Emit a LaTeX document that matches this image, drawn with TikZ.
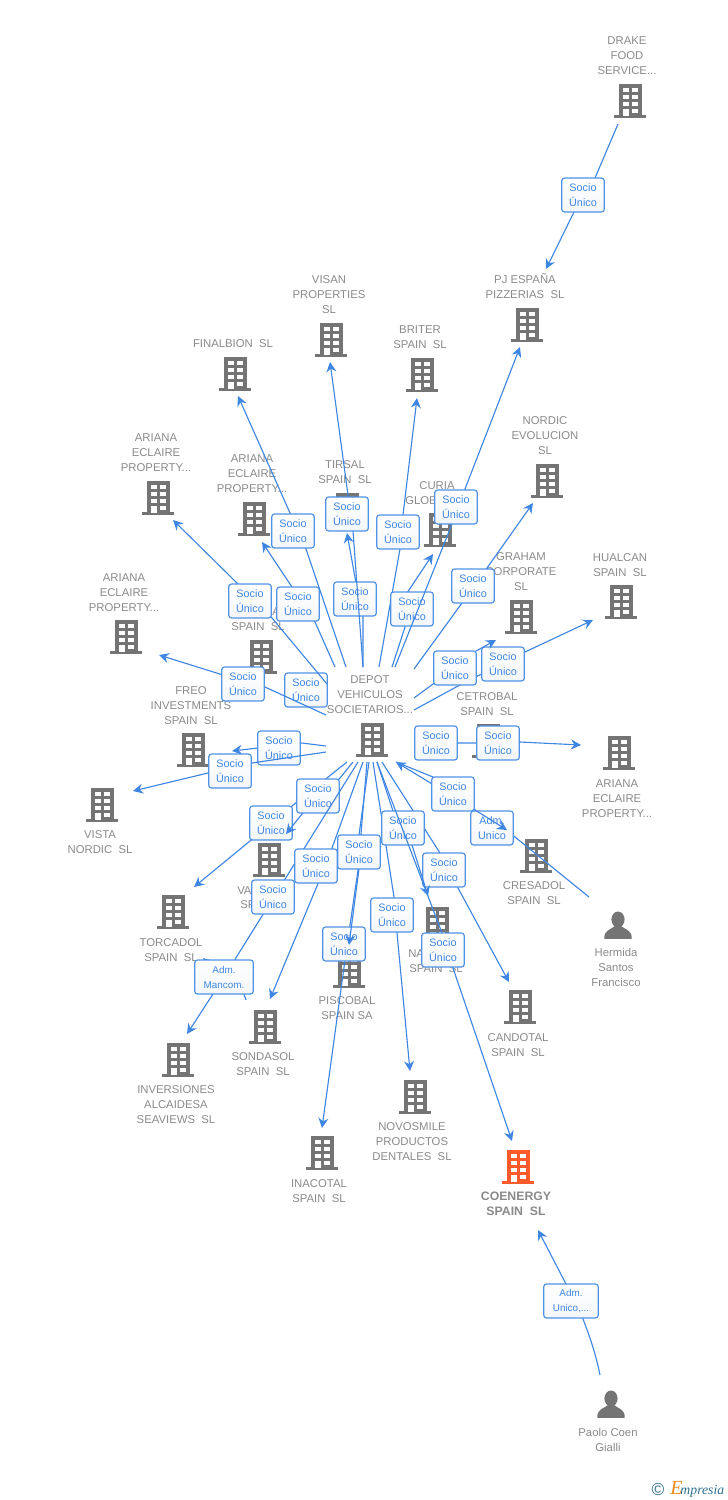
\documentclass[tikz,border=0pt]{standalone}
\usepackage{fontspec}
\setmainfont{Liberation Sans}
\newfontfamily\logofont{Liberation Serif}
\usetikzlibrary{arrows.meta}
\definecolor{edgeblue}{HTML}{3F86E2}
\definecolor{boxblue}{HTML}{4F92E6}
\definecolor{boxshade}{HTML}{F3F6FA}
\definecolor{labelgray}{HTML}{8A8A8A}
\definecolor{iconGray}{HTML}{747474}
\definecolor{iconOrange}{HTML}{FF5A2B}
\definecolor{logoTeal}{HTML}{2F6F8F}
\definecolor{logoOrange}{HTML}{F08A1D}
\tikzset{
  x=0.75pt,y=-0.75pt,
  edge/.style={draw=edgeblue,line width=0.85pt,-{Stealth[length=7.5pt,width=7.5pt,inset=2.5pt]}},
  plainedge/.style={draw=edgeblue,line width=0.85pt},
  linkbox/.style={draw=boxblue,line width=0.9pt,rounded corners=2.2pt,top color=white,bottom color=boxshade,
    text=edgeblue,font=\fontsize{8.1}{11.25}\selectfont,align=center,inner sep=0pt,
    minimum width=32pt,minimum height=25.5pt},
  lab/.style={text=labelgray,font=\fontsize{8.5}{11.25}\selectfont,align=center,inner sep=0pt,yshift=-0.6pt},
  labb/.style={text=labelgray,font=\fontsize{9.2}{11.25}\selectfont\bfseries,align=center,inner sep=0pt,yshift=-0.6pt},
  bldg/.style={minimum width=24pt,minimum height=25.5pt,inner sep=0pt,path picture={
    \begin{scope}[shift={(path picture bounding box.center)},x=0.75pt,y=-0.75pt]
      \fill[#1] (-11.5,-17) rectangle (11.5,14.5);
      \fill[#1] (-16,14) rectangle (16,17);
      \foreach \yy in {-13.5,-6.5,0.5}{
        \fill[white] (-7.5,\yy) rectangle (-1.5,\yy+4.6);
        \fill[white] (2,\yy) rectangle (8,\yy+4.6);}
      \fill[white] (-7.5,7.5) rectangle (-1.5,14.5);
      \fill[white] (2,7.5) rectangle (8,12);
    \end{scope}}},
  bldg/.default=iconGray,
  persn/.style={minimum width=21pt,minimum height=21pt,inner sep=0pt,path picture={
    \begin{scope}[shift={(path picture bounding box.center)},x=0.75pt,y=-0.75pt]
      \fill[iconGray] (0,-5.5) ellipse (6.6 and 8);
      \fill[iconGray] (-13.7,13.8) .. controls (-14,5) and (-8,5) .. (-3,1) -- (3,1) .. controls (8,5) and (14,5) .. (13.7,13.8) -- cycle;
    \end{scope}}},
}
% id, start, box entry, box, box exit, tip, box text
\newcommand\connw[7]{%
  \coordinate (#1-s) at (#2);\coordinate (#1-a) at (#3);\coordinate (#1-b) at (#4);\coordinate (#1-c) at (#5);\coordinate (#1-t) at (#6);
  \draw[edge] (#1-s) -- (#1-a) -- (#1-c) -- (#1-t);
  \node[linkbox] (#1) at (#1-b) {#7};}
\newcommand\su{Socio\\Único}
\begin{document}
\begin{tikzpicture}
\useasboundingbox (0,0) rectangle (728,1500);
% buildings
\node[bldg] (bDrake) at (630,101) {};
\node[bldg] (bPj) at (527,325) {};
\node[bldg] (bVisan) at (331,340) {};
\node[bldg] (bBriter) at (422,375) {};
\node[bldg] (bFinal) at (235,374) {};
\node[bldg] (bNordic) at (547,481) {};
\node[bldg] (bAone) at (158,498) {};
\node[bldg] (bAtwo) at (254,519) {};
\node[bldg] (bTirsal) at (347,510) {};
\node[bldg] (bAthree) at (126,637) {};
\node[bldg] (bCuria) at (440,530) {};
\node[bldg] (bGraham) at (521,617) {};
\node[bldg] (bHualcan) at (621,602) {};
\node[bldg] (bSpain) at (261,657) {};
\node[bldg] (bFreo) at (193,750) {};
\node[bldg] (bDepot) at (372,740) {};
\node[bldg] (bCetro) at (488,741) {};
\node[bldg] (bAright) at (619,753) {};
\node[bldg] (bVista) at (102,805) {};
\node[bldg] (bCresa) at (536,856) {};
\node[bldg] (bVal) at (269,860) {};
\node[bldg] (bTorca) at (173,912) {};
\node[bldg] (bNa) at (437,924) {};
\node[bldg] (bPisco) at (349,971) {};
\node[bldg] (bSonda) at (265,1027) {};
\node[bldg] (bCando) at (520,1007) {};
\node[bldg] (bInver) at (178,1060) {};
\node[bldg] (bNovo) at (415,1097) {};
\node[bldg] (bIna) at (322,1153) {};
\node[bldg=iconOrange] (bCoen) at (518,1167) {};
\node[persn] (pHerm) at (618,925) {};
\node[persn] (pPaolo) at (611,1404) {};
% labels
\node[lab] (lDrake) at (627,55) {DRAKE\\FOOD\\SERVICE...};
\node[lab] (lPj) at (525,285) {PJ ESPAÑA\\PIZZERIAS~~SL};
\node[lab] (lVisan) at (329,294) {VISAN\\PROPERTIES\\SL};
\node[lab] (lBriter) at (420,336) {BRITER\\SPAIN~~SL};
\node[lab] (lFinal) at (233,343) {FINALBION~~SL};
\node[lab] (lNordic) at (545,435) {NORDIC\\EVOLUCION\\SL};
\node[lab] (lAone) at (156,452) {ARIANA\\ECLAIRE\\PROPERTY...};
\node[lab] (lAtwo) at (252,473) {ARIANA\\ECLAIRE\\PROPERTY...};
\node[lab] (lTirsal) at (345,471) {TIRSAL\\SPAIN~~SL};
\node[lab] (lCuria) at (437,485) {CURIA};
\node[lab,anchor=west] (lGlob) at (405,500) {GLOB};
\node[lab] (lGraham) at (521,571) {GRAHAM\\CORPORATE\\SL};
\node[lab] (lHualcan) at (620,564) {HUALCAN\\SPAIN~~SL};
\node[lab] (lAthree) at (124,592) {ARIANA\\ECLAIRE\\PROPERTY...};
\node[lab,anchor=west] (lSpainA) at (272,611) {A};
\node[lab] (lSpain) at (258,626) {SPAIN~~SL};
\node[lab] (lDepot) at (370,694) {DEPOT\\VEHICULOS\\SOCIETARIOS...};
\node[lab] (lCetro) at (487,703) {CETROBAL\\SPAIN~~SL};
\node[lab] (lFreo) at (191,705) {FREO\\INVESTMENTS\\SPAIN~~SL};
\node[lab] (lAright) at (617,798) {ARIANA\\ECLAIRE\\PROPERTY...};
\node[lab] (lVista) at (100,841) {VISTA\\NORDIC~~SL};
\node[lab] (lCresa) at (534,892) {CRESADOL\\SPAIN~~SL};
\node[lab,anchor=west] (lVa) at (237,890) {VA};
\node[lab,anchor=west] (lSp) at (240,904) {SP};
\node[lab] (lTorca) at (171,949) {TORCADOL\\SPAIN~~SL};
\node[lab,anchor=west] (lNa) at (408,953) {NA};
\node[lab] (lNaS) at (436,968) {SPAIN~~SL};
\node[lab] (lHerm) at (616,967) {Hermida\\Santos\\Francisco};
\node[lab] (lPisco) at (347,1007) {PISCOBAL\\SPAIN SA};
\node[lab] (lCando) at (518,1044) {CANDOTAL\\SPAIN~~SL};
\node[lab] (lSonda) at (263,1063) {SONDASOL\\SPAIN~~SL};
\node[lab] (lInver) at (176,1104) {INVERSIONES\\ALCAIDESA\\SEAVIEWS~~SL};
\node[lab] (lNovo) at (412,1141) {NOVOSMILE\\PRODUCTOS\\DENTALES~~SL};
\node[lab] (lIna) at (319,1190) {INACOTAL\\SPAIN~~SL};
\node[labb] (lCoen) at (516,1203) {COENERGY\\SPAIN~~SL};
\node[lab] (lPaolo) at (608,1439) {Paolo Coen\\Gialli};
% connectors
\connw{drake}{618,124}{595,178}{583,195}{574,212}{546,269}{\su}
\node[linkbox] (spainBox) at (306,690) {\su};
\connw{athree}{326,715}{265,687}{243,684}{223,675}{159,655}{\su}
\connw{aone}{327,684}{272,618}{250,601}{238,584}{173,520}{\su}
\connw{atwo}{335,667}{315,622}{298,604}{292,587}{262,542}{\su}
\connw{final}{346,667}{306,549}{293,531}{290,513}{238,396}{\su}
\connw{tirsal}{363,667}{363,617}{355,599}{356,583}{347,533}{\su}
\connw{visan}{363,667}{353,531}{347,514}{348,495}{330,362}{\su}
\connw{briter}{379,667}{400,549}{398,532}{403,515}{417,398}{\su}
\connw{curia}{392,667}{405,627}{412,609}{407,593}{433,554}{\su}
\connw{pj}{395,667}{452,524}{456,507}{465,489}{520,347}{\su}
\connw{nordic}{414,669}{462,603}{473,586}{487,568}{533,503}{\su}
\connw{hualcan}{414,710}{458,686}{503,664}{525,652}{593,620}{\su}
\connw{graham}{414,698}{433,684}{455,668}{476,651}{496,640}{\su}
\node[linkbox] (cetro) at (436,743) {\su};
\coordinate (arightB) at (498,743);
\coordinate (aright-t) at (581,745);
\draw[edge] (cetro) -- (arightB) -- (520,742) -- (aright-t);
\node[linkbox] (aright) at (arightB) {\su};
\connw{freo}{326,746}{302,743}{279,748}{258,748}{232,751}{\su}
\connw{vista}{326,752}{252,763}{230,771}{208,773}{133,791}{\su}
\connw{torca}{347,762}{292,806}{271,823}{250,841}{194,887}{\su}
\connw{val}{353,762}{340,778}{318,796}{302,814}{286,834}{\su}
% Mancom box: through line, tip to its left and short stub below
\coordinate (inv-s) at (358,762);\coordinate (inv-b) at (224,977);\coordinate (inv-t) at (187,1034);
\coordinate (tipT) at (203,958);\coordinate (stubA) at (241,985);\coordinate (stub) at (246,1000);
\draw[edge] (inv-s) -- (inv-b) -- (inv-t);
\coordinate (bxv) at (273,897);
\node[linkbox] (bxvn) at (bxv) {\su};
\draw[edge] (inv-b) -- (tipT);
\draw[plainedge] (stubA) -- (stub);
\node[linkbox,minimum width=44pt,font=\fontsize{7.4}{11.25}\selectfont] (mancom) at (inv-b) {Adm.\\Mancom.};
\connw{sonda}{363,762}{327,862}{316,866}{312,898}{270,999}{\su}
\connw{ina}{367,762}{358,870}{344,944}{345,960}{322,1128}{\su}
\connw{pisco}{369,762}{359,835}{359,852}{359,869}{349,945}{\su}
\connw{novo}{373,762}{394,897}{392,915}{397,933}{410,1071}{\su}
\connw{cando}{382,762}{440,853}{444,870}{458,888}{509,982}{\su}
\connw{nara}{377,762}{393,811}{403,828}{412,845}{428,896}{\su}
\connw{coen}{377,762}{442,933}{443,950}{453,968}{512,1141}{\su}
\connw{herm}{589,897}{515,837}{492,828}{475,810}{396,762}{Adm.\\Unico}
\connw{cresa}{396,762}{433,777}{453,794}{475,810}{507,830}{\su}
% Paolo line, slightly curved
\coordinate (paolo-s) at (600,1375);\coordinate (paolo-c) at (583,1319);\coordinate (paolo-b) at (571,1301);
\coordinate (paolo-a) at (566,1284);\coordinate (paolo-t) at (538,1230);
\draw[edge] (paolo-s) .. controls (596,1355) and (590,1337) .. (paolo-c) -- (paolo-a) -- (paolo-t);
\node[linkbox,minimum width=41pt,font=\fontsize{7.4}{11.25}\selectfont] (paoloBox) at (paolo-b) {Adm.\\Unico,...};
% logo
\node[text=logoTeal,font=\fontsize{13}{13}\selectfont,inner sep=0pt] (logoC) at (658,1489) {©};
\node[anchor=west,inner sep=0pt,font=\logofont\fontsize{10.3}{12}\selectfont\itshape,text=logoTeal] (logoT) at (670,1489) {{\fontsize{15}{12}\selectfont\color{logoOrange}E}\kern-1.5pt mpresia};
\end{tikzpicture}
\end{document}
